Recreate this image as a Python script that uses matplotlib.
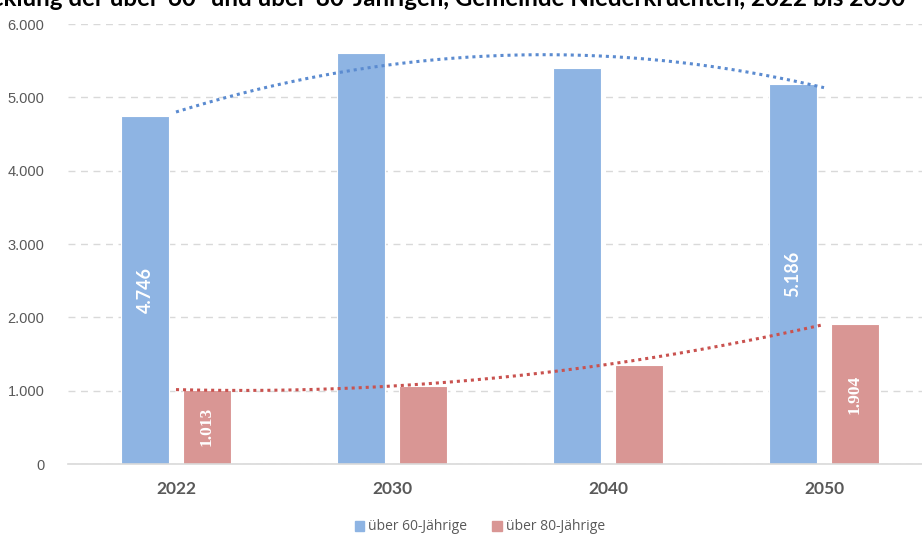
import numpy as np
import matplotlib
matplotlib.use('Agg')
import matplotlib.pyplot as plt
from matplotlib.ticker import FuncFormatter, MultipleLocator
from matplotlib.patches import Patch

years = ['2022', '2030', '2040', '2050']
over60 = [4746, 5610, 5396, 5186]
over80 = [1013, 1068, 1354, 1904]
labelled = [0, 3]  # only first and last year carry data labels
title = 'Entwicklung der über-60- und über-80-Jährigen, Gemeinde Niederkrüchten, 2022 bis 2050'

blue, red = '#8EB4E3', '#D99694'
blue_line, red_line = '#5B8BD0', '#C9524F'
grey = '#595959'

fig = plt.figure(figsize=(9.22, 5.37), dpi=100)
ax = fig.add_axes([68 / 922, 73 / 537, 854 / 922, 440 / 537])

x = np.arange(len(years))
w, off = 0.225, 0.143
ax.bar(x - off, over60, w, color=blue, edgecolor='white', linewidth=0.8, zorder=2)
ax.bar(x + off, over80, w, color=red, edgecolor='white', linewidth=0.8, zorder=2)

for i in labelled:
    ax.text(x[i] - off, over60[i] / 2, f'{over60[i]:,}'.replace(',', '.'), rotation=90,
            ha='center', va='center', color='white', fontsize=13, fontweight='bold',
            family='Lato', zorder=3)
    ax.text(x[i] + off, over80[i] / 2, f'{over80[i]:,}'.replace(',', '.'), rotation=90,
            ha='center', va='center', color='white', fontsize=12.5, fontweight='bold',
            family='Liberation Serif', zorder=3)

# polynomial (order 2) trendlines like Excel
xs = np.linspace(0, len(years) - 1, 200)
for vals, c in [(over60, blue_line), (over80, red_line)]:
    p = np.polyfit(x, vals, 2)
    ax.plot(xs, np.polyval(p, xs), color=c, linestyle=(0, (1, 1.3)), linewidth=2.2, zorder=4)

ax.set_xlim(-0.5, (922 - 68) / 216 - 0.5)
ax.set_ylim(0, 6000)
ax.yaxis.set_major_locator(MultipleLocator(1000))
ax.yaxis.set_major_formatter(FuncFormatter(lambda v, p: f'{int(v):,}'.replace(',', '.')))
ax.grid(axis='y', color='#D9D9D9', linestyle=(0, (5, 4)), linewidth=1, zorder=0)
ax.set_axisbelow(True)
for s in ['top', 'right', 'left']:
    ax.spines[s].set_visible(False)
ax.spines['bottom'].set_color('#D9D9D9')
ax.spines['bottom'].set_linewidth(1.2)

ax.set_xticks(x)
ax.set_xticklabels(years, fontsize=12.5, fontweight='bold', color=grey, family='Lato')
ax.tick_params(axis='x', length=0, pad=12)
ax.tick_params(axis='y', length=0, pad=17, labelsize=10.5, labelcolor=grey)
for t in ax.get_yticklabels():
    t.set_family('Liberation Sans')

handles = [Patch(color=blue), Patch(color=red)]
fig.legend(handles, ['über 60-Jährige', 'über 80-Jährige'], loc='center',
           bbox_to_anchor=(480 / 922, 1 - 527 / 537), ncol=2, frameon=False,
           handlelength=0.7, handleheight=0.7, handletextpad=0.3, columnspacing=1.8,
           prop={'family': 'Open Sans', 'size': 10}, labelcolor=grey)

# title is cut off by the top/left edge, as in the source image
fig.text(905 / 922, 1 + 1 / 537, title, ha='right', va='center', fontsize=17.4,
         fontweight='bold', family='Lato', color='black')

fig.savefig('out.png', dpi=100)
